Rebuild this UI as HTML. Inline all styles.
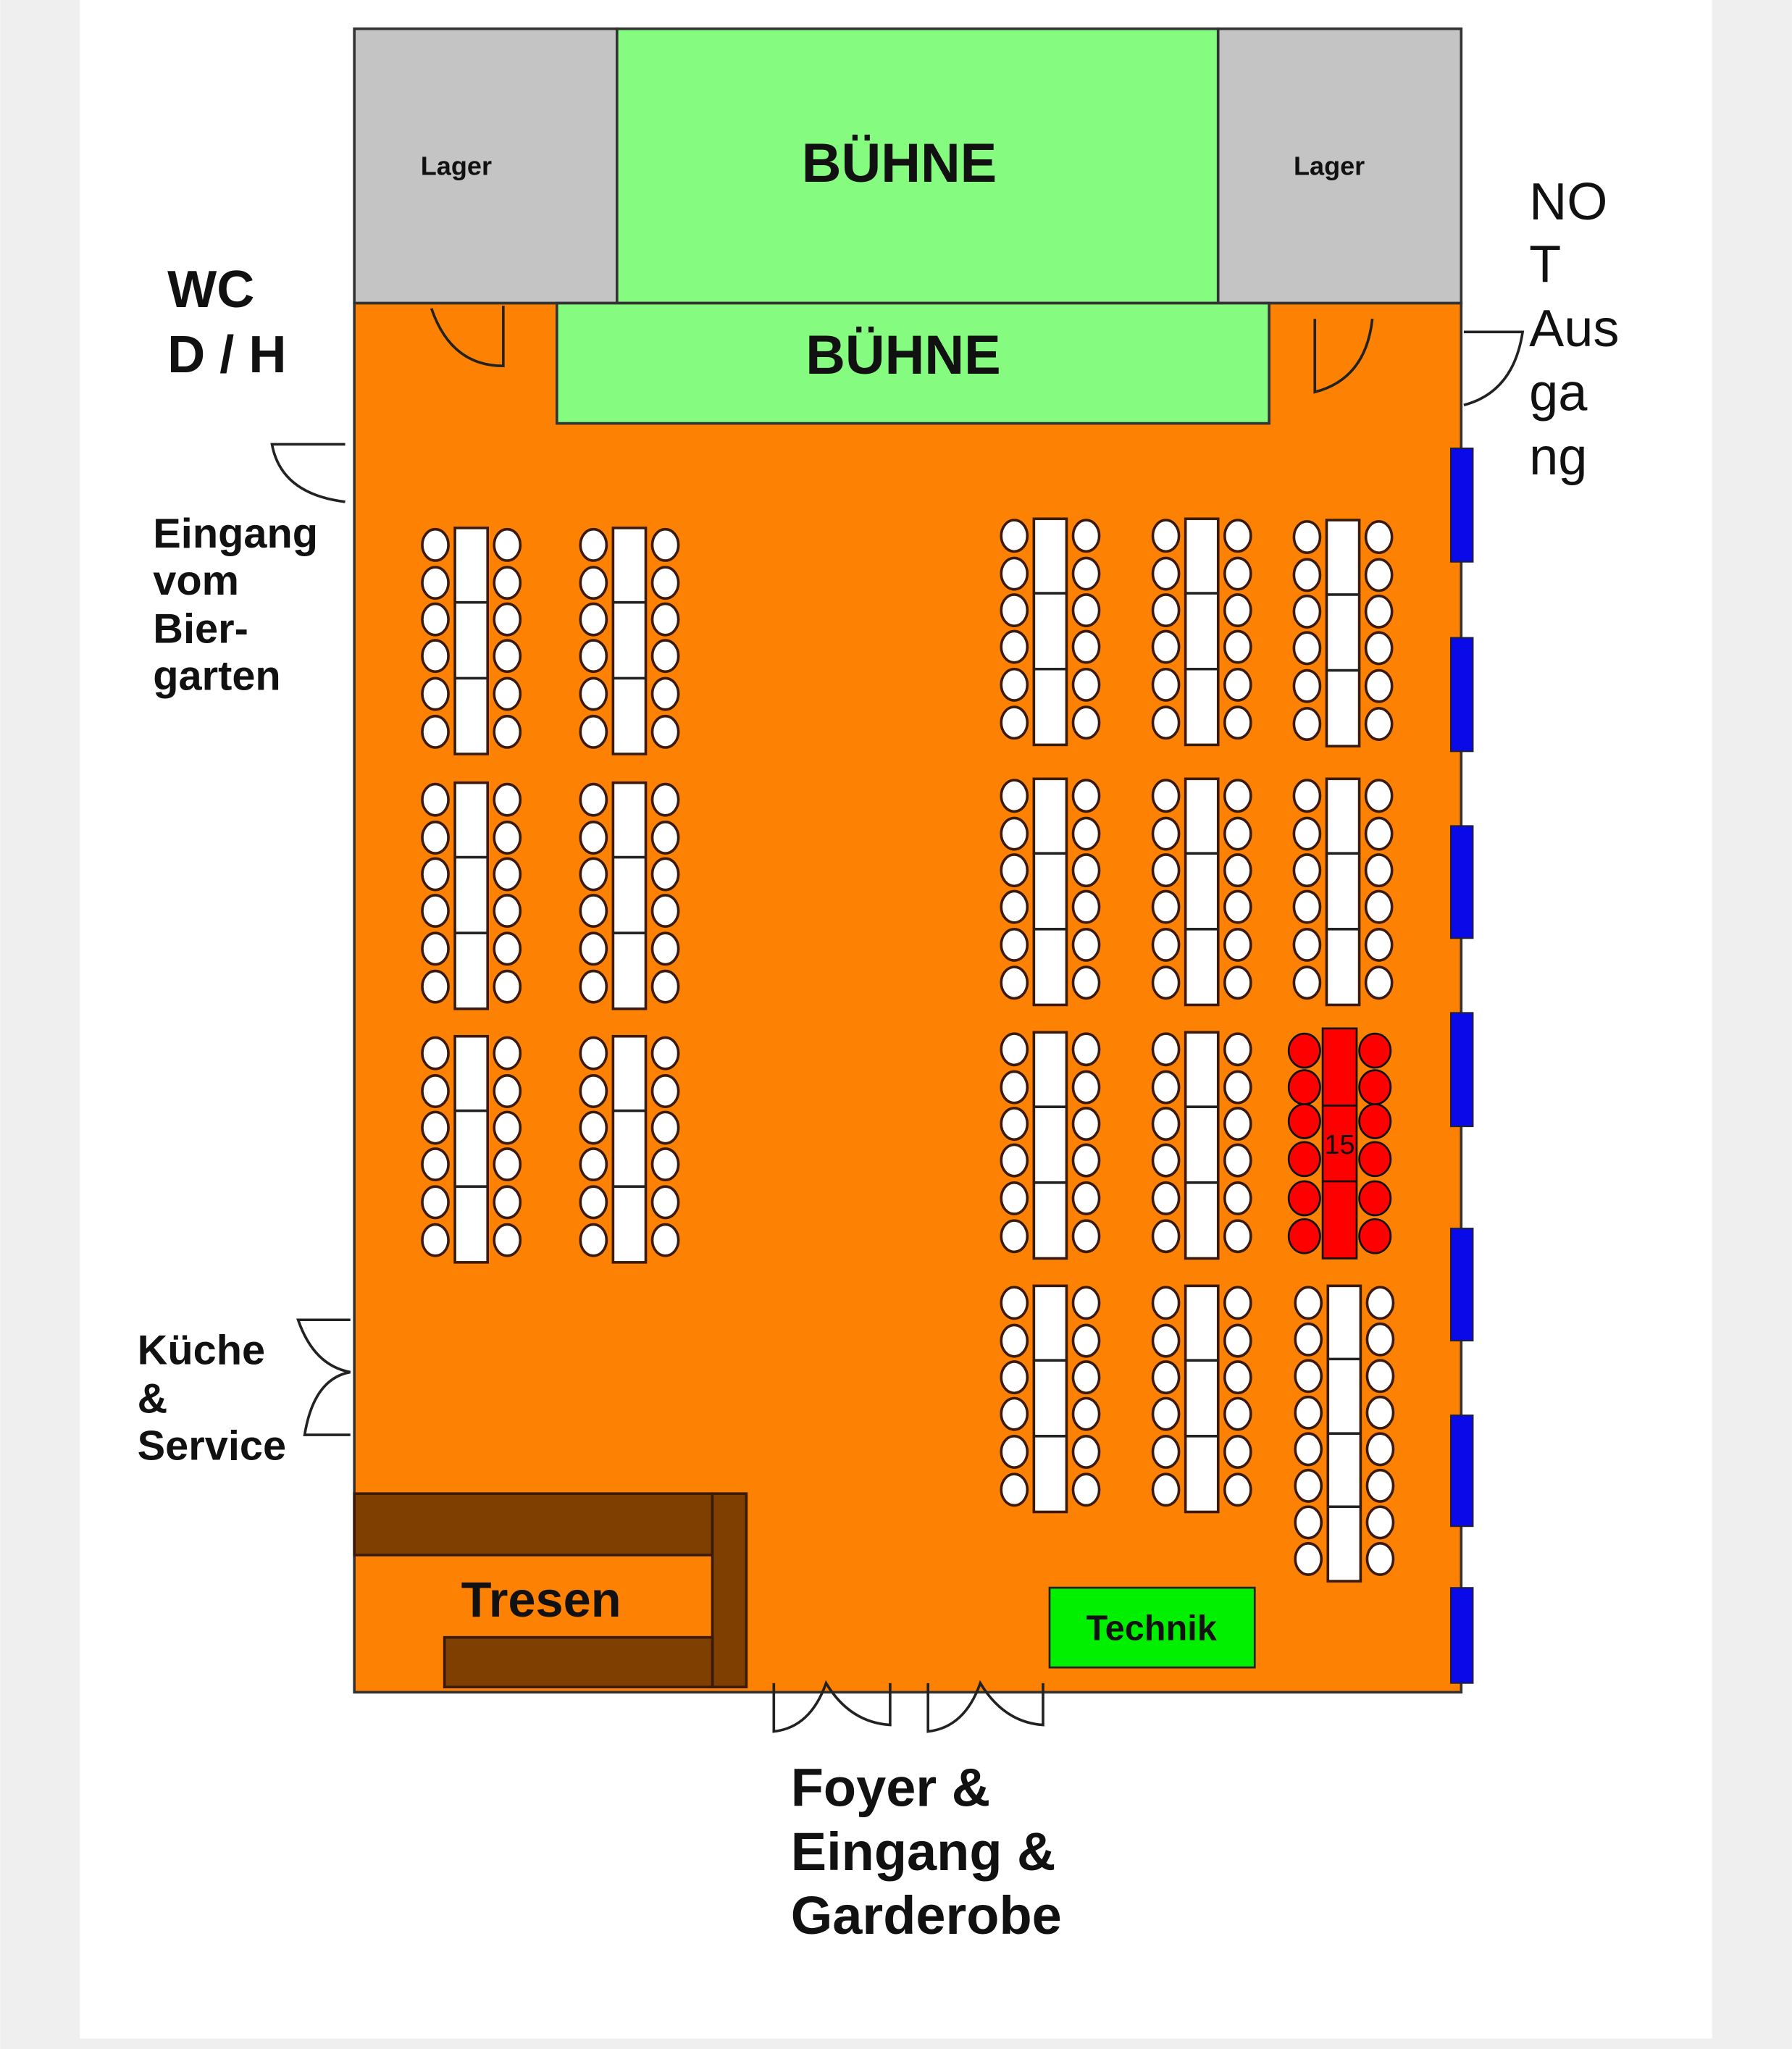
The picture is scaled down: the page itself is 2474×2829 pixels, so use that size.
<!DOCTYPE html>
<html><head><meta charset="utf-8"><style>
html,body{margin:0;padding:0;background:#fff}
svg{display:block}
text{font-family:"Liberation Sans",sans-serif;font-weight:bold;fill:#111}
text.n{font-weight:normal}
</style></head><body>
<svg width="2474" height="2829" viewBox="0 0 1371 1568" xmlns="http://www.w3.org/2000/svg">
<defs>
<g id="t">
<rect x="0" y="0" width="25" height="173" fill="#fff" stroke="#3a1a0a" stroke-width="2"/>
<line x1="0" y1="57" x2="25" y2="57" stroke="#222" stroke-width="2"/>
<line x1="0" y1="115" x2="25" y2="115" stroke="#222" stroke-width="2"/>
<g fill="#fff" stroke="#3a1a0a" stroke-width="2">
<ellipse cx="-15" cy="13" rx="10" ry="12"/><ellipse cx="-15" cy="42" rx="10" ry="12"/><ellipse cx="-15" cy="70" rx="10" ry="12"/><ellipse cx="-15" cy="98" rx="10" ry="12"/><ellipse cx="-15" cy="127" rx="10" ry="12"/><ellipse cx="-15" cy="156" rx="10" ry="12"/>
<ellipse cx="40" cy="13" rx="10" ry="12"/><ellipse cx="40" cy="42" rx="10" ry="12"/><ellipse cx="40" cy="70" rx="10" ry="12"/><ellipse cx="40" cy="98" rx="10" ry="12"/><ellipse cx="40" cy="127" rx="10" ry="12"/><ellipse cx="40" cy="156" rx="10" ry="12"/>
</g></g>
</defs>
<rect x="0" y="0" width="1371" height="1568" fill="#efefef"/>
<rect x="61" y="0" width="1249" height="1560" fill="#fff"/>
<rect x="271" y="22" width="201" height="210" fill="#c4c4c4" stroke="#333" stroke-width="2"/>
<rect x="472" y="22" width="460" height="210" fill="#85fb80" stroke="#333" stroke-width="2"/>
<rect x="932" y="22" width="186" height="210" fill="#c4c4c4" stroke="#333" stroke-width="2"/>
<text x="349" y="134" font-size="20" text-anchor="middle">Lager</text>
<text x="1017" y="134" font-size="20" text-anchor="middle">Lager</text>
<text x="688" y="139" font-size="42" text-anchor="middle">BÜHNE</text>
<rect x="271" y="232" width="847" height="1063" fill="#fd8103" stroke="#333" stroke-width="2"/>
<rect x="426" y="232" width="545" height="92" fill="#85fb80" stroke="#333" stroke-width="2"/>
<text x="691" y="286" font-size="42" text-anchor="middle">BÜHNE</text>
<g fill="none" stroke="#222" stroke-width="2">
<path d="M385 234 V280 Q345 280 330 236"/>
<path d="M1006 244 V300 Q1045 290 1050 244"/>
<path d="M264 340 H208 Q215 378 264 384"/>
<path d="M1120 254 H1165 Q1158 300 1120 310"/>
<path d="M268 1010 H228 Q240 1045 268 1050 M268 1050 Q240 1055 233 1098 H268"/>
<path d="M592 1288 V1325 Q620 1322 632 1288 Q650 1318 681 1320 V1288"/>
<path d="M710 1288 V1325 Q738 1322 750 1288 Q768 1318 798 1320 V1288"/>
</g>
<g fill="#0a0ae8" stroke="#222" stroke-width="1">
<rect x="1110" y="343" width="17" height="87"/><rect x="1110" y="488" width="17" height="87"/>
<rect x="1110" y="632" width="17" height="86"/><rect x="1110" y="775" width="17" height="87"/>
<rect x="1110" y="940" width="17" height="86"/><rect x="1110" y="1083" width="17" height="85"/>
<rect x="1110" y="1215" width="17" height="73"/>
</g>
<use href="#t" x="348" y="404"/><use href="#t" x="469" y="404"/>
<use href="#t" x="348" y="599"/><use href="#t" x="469" y="599"/>
<use href="#t" x="348" y="793"/><use href="#t" x="469" y="793"/>
<use href="#t" x="791" y="397"/><use href="#t" x="907" y="397"/><use href="#t" x="1015" y="398"/>
<use href="#t" x="791" y="596"/><use href="#t" x="907" y="596"/><use href="#t" x="1015" y="596"/>
<use href="#t" x="791" y="790"/><use href="#t" x="907" y="790"/>
<use href="#t" x="791" y="984"/><use href="#t" x="907" y="984"/>
<g transform="translate(1016,984)">
<rect x="0" y="0" width="25" height="226" fill="#fff" stroke="#3a1a0a" stroke-width="2"/>
<line x1="0" y1="56" x2="25" y2="56" stroke="#222" stroke-width="2"/>
<line x1="0" y1="113" x2="25" y2="113" stroke="#222" stroke-width="2"/>
<line x1="0" y1="169" x2="25" y2="169" stroke="#222" stroke-width="2"/>
<g fill="#fff" stroke="#3a1a0a" stroke-width="2">
<ellipse cx="-15" cy="13" rx="10" ry="12"/><ellipse cx="-15" cy="41" rx="10" ry="12"/><ellipse cx="-15" cy="69" rx="10" ry="12"/><ellipse cx="-15" cy="97" rx="10" ry="12"/><ellipse cx="-15" cy="125" rx="10" ry="12"/><ellipse cx="-15" cy="153" rx="10" ry="12"/><ellipse cx="-15" cy="181" rx="10" ry="12"/><ellipse cx="-15" cy="209" rx="10" ry="12"/>
<ellipse cx="40" cy="13" rx="10" ry="12"/><ellipse cx="40" cy="41" rx="10" ry="12"/><ellipse cx="40" cy="69" rx="10" ry="12"/><ellipse cx="40" cy="97" rx="10" ry="12"/><ellipse cx="40" cy="125" rx="10" ry="12"/><ellipse cx="40" cy="153" rx="10" ry="12"/><ellipse cx="40" cy="181" rx="10" ry="12"/><ellipse cx="40" cy="209" rx="10" ry="12"/>
</g></g>
<g transform="translate(1012,787)">
<rect x="0" y="0" width="26" height="176" fill="#ff0000" stroke="#111" stroke-width="1.5"/>
<line x1="0" y1="59" x2="26" y2="59" stroke="#111" stroke-width="1.5"/>
<line x1="0" y1="117" x2="26" y2="117" stroke="#111" stroke-width="1.5"/>
<g fill="#ff0000" stroke="#111" stroke-width="1.5">
<ellipse cx="-14" cy="17" rx="12" ry="13"/><ellipse cx="-14" cy="45" rx="12" ry="13"/><ellipse cx="-14" cy="71" rx="12" ry="13"/><ellipse cx="-14" cy="100" rx="12" ry="13"/><ellipse cx="-14" cy="130" rx="12" ry="13"/><ellipse cx="-14" cy="159" rx="12" ry="13"/>
<ellipse cx="40" cy="17" rx="12" ry="13"/><ellipse cx="40" cy="45" rx="12" ry="13"/><ellipse cx="40" cy="71" rx="12" ry="13"/><ellipse cx="40" cy="100" rx="12" ry="13"/><ellipse cx="40" cy="130" rx="12" ry="13"/><ellipse cx="40" cy="159" rx="12" ry="13"/>
</g>
<text class="n" x="13" y="96" font-size="21" text-anchor="middle">15</text>
</g>
<g fill="#7f3f00" stroke="#3a1a0a" stroke-width="2">
<rect x="271" y="1143" width="274" height="47"/>
<rect x="545" y="1143" width="26" height="148"/>
<rect x="340" y="1253" width="205" height="38"/>
</g>
<text x="414" y="1237" font-size="38" text-anchor="middle">Tresen</text>
<rect x="803" y="1215" width="157" height="61" fill="#00f000" stroke="#222" stroke-width="1.5"/>
<text x="881" y="1255" font-size="27" text-anchor="middle">Technik</text>
<text font-size="40"><tspan x="128" y="235">WC</tspan><tspan x="128" y="285">D / H</tspan></text>
<text font-size="32"><tspan x="117" y="419">Eingang</tspan><tspan x="117" y="455">vom</tspan><tspan x="117" y="492">Bier-</tspan><tspan x="117" y="528">garten</tspan></text>
<text font-size="32"><tspan x="105" y="1044">Küche</tspan><tspan x="105" y="1081">&amp;</tspan><tspan x="105" y="1117">Service</tspan></text>
<text class="n" font-size="40"><tspan x="1170" y="168">NO</tspan><tspan x="1170" y="216">T</tspan><tspan x="1170" y="265">Aus</tspan><tspan x="1170" y="314">ga</tspan><tspan x="1170" y="363">ng</tspan></text>
<text font-size="41"><tspan x="605" y="1382">Foyer &amp;</tspan><tspan x="605" y="1431">Eingang &amp;</tspan><tspan x="605" y="1480">Garderobe</tspan></text>
</svg>
</body></html>
